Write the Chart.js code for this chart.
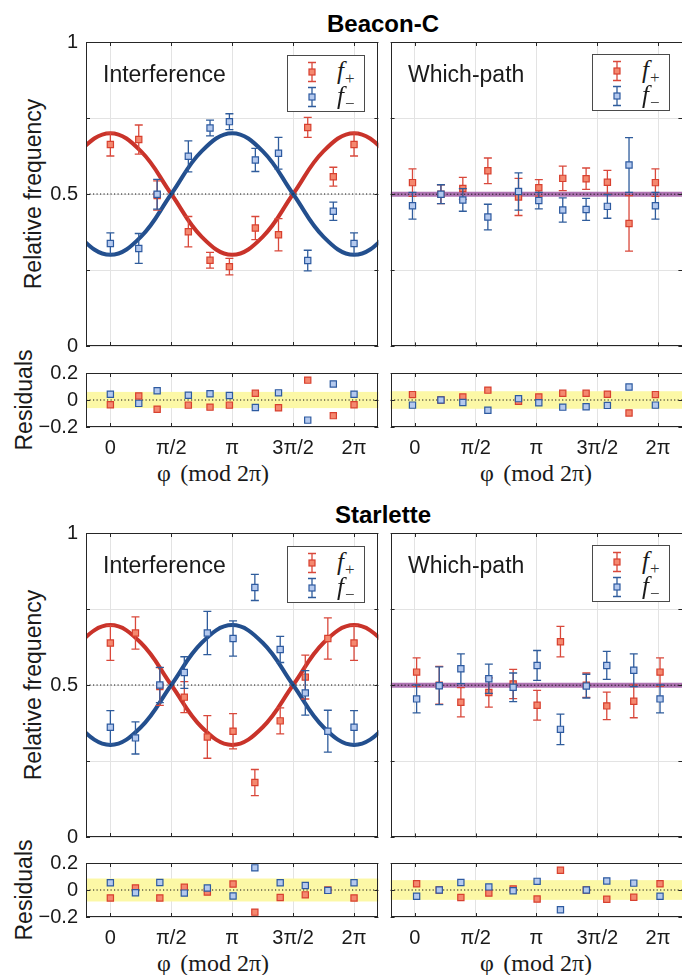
<!DOCTYPE html>
<html lang="en">
<head>
<meta charset="UTF-8">
<title>Beacon-C / Starlette — interference and which-path</title>
<script src="https://cdn.jsdelivr.net/npm/chart.js@4"></script>
<style>
  * { margin: 0; padding: 0; box-sizing: border-box; }
  body { width: 682px; height: 975px; background: #fff; position: relative; overflow: hidden;
         font-family: 'Liberation Sans', Arial, sans-serif; color: #1a1a1a; }
  canvas { position: absolute; }
  .lab { position: absolute; white-space: nowrap; line-height: 1; transform: translate(-50%, -50%); }
  .rot { transform: translate(-50%, -50%) rotate(-90deg); }
  .title { font-size: 24px; font-weight: bold; color: #000; }
  .tag { position: absolute; white-space: nowrap; line-height: 1; font-size: 23px; transform: translateY(-50%); }
  .ylab { font-size: 23px; }
  .xlab { font-family: 'Liberation Serif', 'DejaVu Serif', serif; font-size: 24px; }
  .legend { position: absolute; width: 78px; height: 57px; border: 1px solid #4a4a4a; background: #fff; }
  .legend .row { position: absolute; left: 0; height: 24px; width: 76px; }
  .legend svg { position: absolute; left: 16px; top: 0; }
  .legend .name { position: absolute; left: 49px; top: 0; font-family: 'Liberation Serif', 'DejaVu Serif', serif;
                  font-size: 25px; line-height: 22px; }
  .legend .name i { font-style: italic; }
  .legend .name sub { font-style: normal; font-size: 17px; vertical-align: -5px; margin-left: 1px; color: #333; }
</style>
</head>
<body>

<div class="lab title" style="left:383px; top:23.5px">Beacon-C</div>
<div class="lab title" style="left:383px; top:514.5px">Starlette</div>

<div class="lab rot ylab" style="left:33px; top:194px">Relative frequency</div>
<div class="lab rot ylab" style="left:24px; top:400px">Residuals</div>
<div class="lab rot ylab" style="left:33px; top:685px">Relative frequency</div>
<div class="lab rot ylab" style="left:24px; top:890px">Residuals</div>

<div class="lab xlab" style="left:213px; top:473px">φ&#8201;&#8201;(mod 2π)</div>
<div class="lab xlab" style="left:536px; top:473px">φ&#8201;&#8201;(mod 2π)</div>
<div class="lab xlab" style="left:213px; top:963px">φ&#8201;&#8201;(mod 2π)</div>
<div class="lab xlab" style="left:536px; top:963px">φ&#8201;&#8201;(mod 2π)</div>

<script>
// phase positions are in units of π
const xTicks = [0, 0.5, 1, 1.5, 2]
const xTickLabels = ['0', 'π/2', 'π', '3π/2', '2π']

// fitted fringes at steps of π/4
const fitX = [-0.5, -0.25, 0, 0.25, 0.5, 0.75, 1, 1.25, 1.5, 1.75, 2, 2.25, 2.5]
const beaconFitPlus = [0.5, 0.641, 0.7, 0.641, 0.5, 0.359, 0.3, 0.359, 0.5, 0.641, 0.7, 0.641, 0.5]
const beaconFitMinus = [0.5, 0.359, 0.3, 0.359, 0.5, 0.641, 0.7, 0.641, 0.5, 0.359, 0.3, 0.359, 0.5]
const starletteFitPlus = [0.5, 0.639, 0.697, 0.639, 0.5, 0.361, 0.303, 0.361, 0.5, 0.639, 0.697, 0.639, 0.5]
const starletteFitMinus = [0.5, 0.361, 0.303, 0.361, 0.5, 0.639, 0.697, 0.639, 0.5, 0.361, 0.303, 0.361, 0.5]
const flatFitX = [-0.2, 2.2]
const flatFit = [0.5, 0.5]

// Beacon-C, interference
const beaconIntX = [0, 0.233, 0.384, 0.64, 0.818, 0.977, 1.19, 1.38, 1.62, 1.83, 2.0]
const beaconIntPlus = [0.663, 0.679, 0.495, 0.376, 0.282, 0.261, 0.388, 0.366, 0.719, 0.557, 0.663]
const beaconIntPlusErr = [0.038, 0.048, 0.048, 0.05, 0.026, 0.027, 0.038, 0.053, 0.033, 0.031, 0.038]
const beaconIntMinus = [0.337, 0.321, 0.499, 0.624, 0.717, 0.738, 0.612, 0.634, 0.281, 0.443, 0.337]
const beaconIntMinusErr = [0.035, 0.049, 0.049, 0.051, 0.026, 0.026, 0.038, 0.052, 0.034, 0.03, 0.035]
const beaconIntResPlus = [-0.035, 0.03, -0.068, -0.038, -0.053, -0.038, 0.05, -0.058, 0.147, -0.116, -0.035]
const beaconIntResMinus = [0.043, -0.025, 0.068, 0.035, 0.046, 0.033, -0.056, 0.053, -0.149, 0.119, 0.043]

// Beacon-C, which-path
const beaconWpX = [-0.02, 0.214, 0.394, 0.6, 0.852, 1.019, 1.216, 1.408, 1.583, 1.761, 1.978]
const beaconWpPlus = [0.538, 0.5, 0.519, 0.577, 0.491, 0.521, 0.552, 0.551, 0.539, 0.404, 0.538]
const beaconWpPlusErr = [0.045, 0.031, 0.036, 0.042, 0.061, 0.027, 0.04, 0.035, 0.039, 0.091, 0.045]
const beaconWpMinus = [0.462, 0.5, 0.481, 0.425, 0.509, 0.479, 0.448, 0.45, 0.46, 0.596, 0.462]
const beaconWpMinusErr = [0.044, 0.031, 0.037, 0.042, 0.061, 0.027, 0.04, 0.036, 0.039, 0.09, 0.044]
const beaconWpResPlus = [0.04, 0.0, 0.023, 0.073, -0.01, 0.023, 0.05, 0.05, 0.043, -0.096, 0.04]
const beaconWpResMinus = [-0.038, 0.0, -0.018, -0.076, 0.01, -0.02, -0.053, -0.05, -0.04, 0.096, -0.038]

// Starlette, interference
const starletteIntX = [0, 0.206, 0.406, 0.607, 0.796, 1.007, 1.186, 1.394, 1.6, 1.785, 2.0]
const starletteIntPlus = [0.638, 0.671, 0.495, 0.46, 0.329, 0.348, 0.179, 0.382, 0.526, 0.653, 0.638]
const starletteIntPlusErr = [0.057, 0.053, 0.062, 0.051, 0.07, 0.058, 0.043, 0.043, 0.072, 0.068, 0.057]
const starletteIntMinus = [0.361, 0.326, 0.5, 0.541, 0.671, 0.653, 0.821, 0.617, 0.474, 0.348, 0.361]
const starletteIntMinusErr = [0.055, 0.053, 0.058, 0.052, 0.071, 0.058, 0.043, 0.043, 0.073, 0.069, 0.055]
const starletteIntResPlus = [-0.059, 0.015, -0.059, 0.02, -0.015, 0.044, -0.164, -0.056, -0.036, 0.0, -0.059]
const starletteIntResMinus = [0.054, -0.02, 0.056, -0.023, 0.015, -0.044, 0.164, 0.054, 0.033, -0.003, 0.054]

// Starlette, which-path
const starletteWpX = [0.014, 0.2, 0.378, 0.608, 0.808, 1.005, 1.197, 1.41, 1.578, 1.8, 2.016]
const starletteWpPlus = [0.543, 0.5, 0.444, 0.476, 0.504, 0.434, 0.643, 0.5, 0.432, 0.447, 0.543]
const starletteWpPlusErr = [0.047, 0.062, 0.048, 0.048, 0.048, 0.049, 0.05, 0.04, 0.045, 0.054, 0.047]
const starletteWpMinus = [0.455, 0.498, 0.554, 0.521, 0.493, 0.565, 0.355, 0.497, 0.565, 0.549, 0.455]
const starletteWpMinusErr = [0.046, 0.062, 0.049, 0.048, 0.047, 0.049, 0.05, 0.039, 0.046, 0.054, 0.046]
const starletteWpResPlus = [0.046, 0.0, -0.056, -0.023, 0.008, -0.067, 0.146, 0.0, -0.069, -0.054, 0.046]
const starletteWpResMinus = [-0.046, 0.0, 0.056, 0.023, -0.005, 0.064, -0.146, 0.0, 0.067, 0.051, -0.046]

// half-width of the shaded band in each residual panel
const residualBands = { beaconInt: 0.06, beaconWp: 0.065, starletteInt: 0.085, starletteWp: 0.073 }

const RED = '#c9332a', RED_BAR = '#d9483b', RED_FILL = '#f4886f', RED_EDGE = '#d8402f'
const BLUE = '#234f8e', BLUE_BAR = '#2f5c9c', BLUE_FILL = '#b4c9ee', BLUE_EDGE = '#2d5aa0'
const PURPLE = 'rgba(160, 92, 165, 0.85)'

const pts = (xs, ys) => xs.map((x, i) => ({ x, y: ys[i] }))

const curve = (xs, ys, color, order) => ({
  type: 'line', data: pts(xs, ys), borderColor: color, borderWidth: 4, pointRadius: 0,
  tension: 0.4, fill: false, clip: 0, order
})
const refLine = value => ({
  type: 'line', data: [{ x: -0.2, y: value }, { x: 2.2, y: value }], borderColor: '#111', borderWidth: 1,
  borderDash: [1.2, 2.3], pointRadius: 0, clip: 0, order: 2
})
const markers = (xs, ys, errs, fillColor, edge, barColor, order) => ({
  type: 'line', data: pts(xs, ys), showLine: false, pointStyle: 'rect', pointRadius: 4.4,
  pointBackgroundColor: fillColor, pointBorderColor: edge, pointBorderWidth: 1.2,
  errors: errs, errColor: barColor, order
})

// yellow band, error bars, box with inward ticks
const frame = {
  id: 'frame',
  beforeDatasetsDraw (chart) {
    const band = chart.options.plugins.frame.band
    if (!band) return
    const { ctx, chartArea: a, scales: { y } } = chart
    const t = y.getPixelForValue(band)
    const b = y.getPixelForValue(-band)
    ctx.save()
    ctx.fillStyle = '#fcf8a6'
    ctx.fillRect(a.left, t, a.width, b - t)
    ctx.restore()
  },
  beforeDatasetDraw (chart, args) {
    const ds = chart.data.datasets[args.index]
    if (!ds.errors) return
    const { ctx, scales: { x, y } } = chart
    ctx.save()
    ctx.strokeStyle = ds.errColor
    ctx.lineWidth = 1.3
    ds.data.forEach((p, i) => {
      const px = x.getPixelForValue(p.x)
      const y1 = y.getPixelForValue(p.y + ds.errors[i])
      const y2 = y.getPixelForValue(p.y - ds.errors[i])
      ctx.beginPath()
      ctx.moveTo(px, y1); ctx.lineTo(px, y2)
      ctx.moveTo(px - 4, y1); ctx.lineTo(px + 4, y1)
      ctx.moveTo(px - 4, y2); ctx.lineTo(px + 4, y2)
      ctx.stroke()
    })
    ctx.restore()
  },
  afterDraw (chart) {
    const { ctx, chartArea: a, scales: { x, y } } = chart
    ctx.save()
    ctx.strokeStyle = '#262626'
    ctx.lineWidth = 1
    ctx.beginPath()
    for (const t of x.ticks) {
      const px = Math.round(x.getPixelForValue(t.value)) + 0.5
      ctx.moveTo(px, a.bottom); ctx.lineTo(px, a.bottom - 4)
      ctx.moveTo(px, a.top); ctx.lineTo(px, a.top + 4)
    }
    for (const t of y.ticks) {
      const py = Math.round(y.getPixelForValue(t.value)) + 0.5
      ctx.moveTo(a.left, py); ctx.lineTo(a.left + 4, py)
      ctx.moveTo(a.right, py); ctx.lineTo(a.right - 4, py)
    }
    ctx.stroke()
    ctx.strokeRect(Math.round(a.left) + 0.5, Math.round(a.top) + 0.5, Math.round(a.width) - 1, Math.round(a.height) - 1)
    ctx.restore()
  }
}

const tickFont = { family: "'Liberation Sans', Arial, sans-serif", size: 20 }

function chartConfig (cfg, m) {
  const yTicks = cfg.residual ? [-0.2, 0, 0.2] : [0, 0.25, 0.5, 0.75, 1]
  return {
    type: 'line',
    data: { datasets: cfg.datasets() },
    options: {
      responsive: false,
      maintainAspectRatio: false,
      animation: false,
      events: [],
      layout: { padding: { left: 0, right: m.r, top: m.t, bottom: 0 } },
      plugins: { legend: { display: false }, tooltip: { enabled: false }, frame: { band: cfg.band } },
      scales: {
        x: {
          type: 'linear', min: -0.2, max: 2.2,
          afterBuildTicks: s => { s.ticks = xTicks.map(v => ({ value: v })) },
          afterFit: s => { s.height = m.b },
          grid: { color: '#e3e3e3', drawTicks: false },
          border: { display: false },
          ticks: {
            display: !!cfg.xLabels, padding: 9, color: '#1a1a1a', font: tickFont, maxRotation: 0,
            callback: v => xTickLabels[xTicks.indexOf(v)]
          }
        },
        y: {
          type: 'linear', min: yTicks[0], max: yTicks[yTicks.length - 1],
          afterBuildTicks: s => { s.ticks = yTicks.map(v => ({ value: v })) },
          afterFit: s => { s.width = m.l },
          grid: { color: '#e3e3e3', drawTicks: false },
          border: { display: false },
          ticks: {
            display: !!cfg.yLabels, padding: 8, color: '#1a1a1a', font: tickFont,
            callback: v => (v === 0.25 || v === 0.75) ? '' : String(v).replace('-', '−')
          }
        }
      }
    },
    plugins: [frame]
  }
}

// box is the wanted plot area; the canvas is grown and moved until the chart area sits on it
function panel (box, cfg) {
  const m = { l: cfg.yLabels ? 70 : 4, r: 4, t: 14, b: cfg.xLabels ? 44 : 4 }
  const c = document.createElement('canvas')
  document.body.appendChild(c)
  const build = (w, h) => {
    c.width = w
    c.height = h
    return new Chart(c, chartConfig(cfg, m))
  }
  const w0 = box.w + m.l + m.r
  const h0 = box.h + m.t + m.b
  let chart = build(w0, h0)
  let a = chart.chartArea
  const dw = Math.round(box.w - (a.right - a.left))
  const dh = Math.round(box.h - (a.bottom - a.top))
  if (dw || dh) {
    chart.destroy()
    chart = build(w0 + dw, h0 + dh)
    a = chart.chartArea
  }
  c.style.left = Math.round(box.x - a.left) + 'px'
  c.style.top = Math.round(box.y - a.top) + 'px'
}

function legend (left, top) {
  const glyph = (bar, fill, edge) =>
    `<svg width="16" height="24"><path d="M8 2.5V21.5M4 2.5H12M4 21.5H12" stroke="${bar}" stroke-width="1.3" fill="none"/>` +
    `<rect x="5" y="9" width="6" height="6" fill="${fill}" stroke="${edge}" stroke-width="1.2"/></svg>`
  const d = document.createElement('div')
  d.className = 'legend'
  d.style.left = left + 'px'
  d.style.top = top + 'px'
  d.innerHTML =
    `<div class="row" style="top:4px">${glyph(RED_BAR, RED_FILL, RED_EDGE)}<span class="name"><i>f</i><sub>+</sub></span></div>` +
    `<div class="row" style="top:29px">${glyph(BLUE_BAR, BLUE_FILL, BLUE_EDGE)}<span class="name"><i>f</i><sub>−</sub></span></div>`
  document.body.appendChild(d)
}

function tag (text, left, top) {
  const d = document.createElement('div')
  d.className = 'tag'
  d.style.left = left + 'px'
  d.style.top = top + 'px'
  d.textContent = text
  document.body.appendChild(d)
}

function group (top, resTop, s) {
  const L = { x: 86, w: 292 }
  const R = { x: 391, w: 292 }
  panel({ ...L, y: top, h: 304 }, {
    yLabels: true,
    datasets: () => [
      markers(s.intX, s.intMinus, s.intMinusErr, BLUE_FILL, BLUE_EDGE, BLUE_BAR, 0),
      markers(s.intX, s.intPlus, s.intPlusErr, RED_FILL, RED_EDGE, RED_BAR, 1),
      refLine(0.5),
      curve(fitX, s.fitMinus, BLUE, 3),
      curve(fitX, s.fitPlus, RED, 4)
    ]
  })
  panel({ ...R, y: top, h: 304 }, {
    datasets: () => [
      markers(s.wpX, s.wpMinus, s.wpMinusErr, BLUE_FILL, BLUE_EDGE, BLUE_BAR, 0),
      markers(s.wpX, s.wpPlus, s.wpPlusErr, RED_FILL, RED_EDGE, RED_BAR, 1),
      refLine(0.5),
      { ...curve(flatFitX, flatFit, PURPLE, 3), borderWidth: 5, tension: 0 }
    ]
  })
  panel({ ...L, y: resTop, h: 54 }, {
    yLabels: true, xLabels: true, residual: true, band: s.intBand,
    datasets: () => [
      markers(s.intX, s.intResMinus, null, BLUE_FILL, BLUE_EDGE, BLUE_BAR, 0),
      markers(s.intX, s.intResPlus, null, RED_FILL, RED_EDGE, RED_BAR, 1),
      refLine(0)
    ]
  })
  panel({ ...R, y: resTop, h: 54 }, {
    xLabels: true, residual: true, band: s.wpBand,
    datasets: () => [
      markers(s.wpX, s.wpResMinus, null, BLUE_FILL, BLUE_EDGE, BLUE_BAR, 0),
      markers(s.wpX, s.wpResPlus, null, RED_FILL, RED_EDGE, RED_BAR, 1),
      refLine(0)
    ]
  })
  legend(287, top + 13)
  legend(592, top + 12)
  tag('Interference', 103, top + 31.5)
  tag('Which-path', 408, top + 31.5)
}

group(42, 373, {
  fitPlus: beaconFitPlus, fitMinus: beaconFitMinus,
  intX: beaconIntX, intPlus: beaconIntPlus, intPlusErr: beaconIntPlusErr,
  intMinus: beaconIntMinus, intMinusErr: beaconIntMinusErr,
  intResPlus: beaconIntResPlus, intResMinus: beaconIntResMinus,
  wpX: beaconWpX, wpPlus: beaconWpPlus, wpPlusErr: beaconWpPlusErr,
  wpMinus: beaconWpMinus, wpMinusErr: beaconWpMinusErr,
  wpResPlus: beaconWpResPlus, wpResMinus: beaconWpResMinus,
  intBand: residualBands.beaconInt, wpBand: residualBands.beaconWp
})

group(533, 863, {
  fitPlus: starletteFitPlus, fitMinus: starletteFitMinus,
  intX: starletteIntX, intPlus: starletteIntPlus, intPlusErr: starletteIntPlusErr,
  intMinus: starletteIntMinus, intMinusErr: starletteIntMinusErr,
  intResPlus: starletteIntResPlus, intResMinus: starletteIntResMinus,
  wpX: starletteWpX, wpPlus: starletteWpPlus, wpPlusErr: starletteWpPlusErr,
  wpMinus: starletteWpMinus, wpMinusErr: starletteWpMinusErr,
  wpResPlus: starletteWpResPlus, wpResMinus: starletteWpResMinus,
  intBand: residualBands.starletteInt, wpBand: residualBands.starletteWp
})
</script>
</body>
</html>
